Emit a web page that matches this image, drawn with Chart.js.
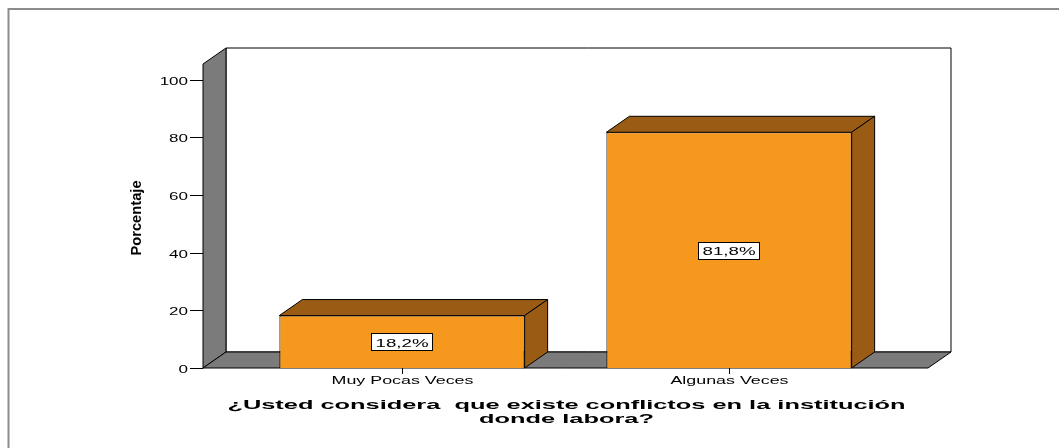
<!DOCTYPE html>
<html>
<head>
<meta charset="utf-8">
<script src="https://cdn.jsdelivr.net/npm/chart.js@4"></script>
<style>
  html, body { margin: 0; padding: 0; background: #fff; }
  canvas { display: block; }
</style>
</head>
<body>
<canvas id="chart" width="1059" height="448"></canvas>
<script>
// Chart data
const categories = ['Muy Pocas Veces', 'Algunas Veces'];
const percentages = [18.2, 81.8];
const yTickValues = [0, 20, 40, 60, 80, 100];
const xTitleLines = ['¿Usted considera  que existe conflictos en la institución', 'donde labora?'];
const yTitle = 'Porcentaje';

// Colours
const colors = {
    front: '#f7981e',
    shade: '#9a5b14',
    wall: '#7b7b7b',
    frame: '#8c8c8c'
};

// 3D depth of walls and bars
const DX = 23, DY = 16;
const WALL_GAP = 35.5;
const FONT = '"Liberation Sans", Arial, sans-serif';

function stretchText(ctx, text, x, y, font, sx, align) {
    ctx.save();
    ctx.font = font;
    ctx.textAlign = align;
    ctx.textBaseline = 'alphabetic';
    ctx.fillStyle = '#000';
    ctx.translate(x, y);
    ctx.scale(sx, 1);
    ctx.fillText(text, 0, 0);
    ctx.restore();
}

function poly(ctx, pts, fill) {
    ctx.beginPath();
    ctx.moveTo(pts[0][0], pts[0][1]);
    for (let i = 1; i < pts.length; i++) ctx.lineTo(pts[i][0], pts[i][1]);
    ctx.closePath();
    ctx.fillStyle = fill;
    ctx.fill();
    ctx.stroke();
}

const box3d = {
    id: 'box3d',
    beforeDraw(chart) {
        const ctx = chart.ctx;
        ctx.save();
        ctx.strokeStyle = colors.frame;
        ctx.lineWidth = 2;
        ctx.beginPath();
        ctx.moveTo(8.5, 448);
        ctx.lineTo(8.5, 9);
        ctx.lineTo(1059, 9);
        ctx.stroke();
        ctx.restore();
    },
    beforeDatasetsDraw(chart) {
        const ctx = chart.ctx;
        const a = chart.chartArea;
        const L = a.left - WALL_GAP, R = a.right + WALL_GAP, T = a.top, B = a.bottom;
        ctx.save();
        ctx.strokeStyle = '#000';
        ctx.lineWidth = 1;
        // back wall
        poly(ctx, [[L + DX, T - DY], [R + DX, T - DY], [R + DX, B - DY], [L + DX, B - DY]], '#fff');
        // left wall
        poly(ctx, [[L, B], [L, T], [L + DX, T - DY], [L + DX, B - DY]], colors.wall);
        // floor
        poly(ctx, [[L, B], [L + DX, B - DY], [R + DX, B - DY], [R, B]], colors.wall);
        ctx.restore();
    },
    afterDatasetsDraw(chart) {
        const ctx = chart.ctx;
        const a = chart.chartArea;
        const L = a.left - WALL_GAP, B = a.bottom;
        const xs = chart.scales.x, ys = chart.scales.y;
        const meta = chart.getDatasetMeta(0);
        ctx.save();
        ctx.strokeStyle = '#000';
        ctx.lineWidth = 1;
        meta.data.forEach((bar, i) => {
            const p = bar.getProps(['x', 'y', 'base', 'width'], true);
            const l = p.x - p.width / 2, r = p.x + p.width / 2;
            poly(ctx, [[l, p.y], [l + DX, p.y - DY], [r + DX, p.y - DY], [r, p.y]], colors.shade);
            poly(ctx, [[r, p.y], [r + DX, p.y - DY], [r + DX, p.base - DY], [r, p.base]], colors.shade);

            // value label box
            const txt = percentages[i].toFixed(1).replace('.', ',') + '%';
            ctx.font = '11px ' + FONT;
            const w = ctx.measureText(txt).width * 1.7 + 8;
            const cy = (p.y + p.base) / 2;
            ctx.fillStyle = '#fff';
            ctx.fillRect(Math.round(p.x - w / 2) + 0.5, Math.round(cy - 8.5) + 0.5, Math.round(w), 17);
            ctx.strokeRect(Math.round(p.x - w / 2) + 0.5, Math.round(cy - 8.5) + 0.5, Math.round(w), 17);
            stretchText(ctx, txt, p.x, cy + 5, '11px ' + FONT, 1.7, 'center');
        });

        // y axis ticks and labels
        ys.ticks.forEach(t => {
            const py = Math.round(ys.getPixelForValue(t.value)) + 0.5;
            ctx.beginPath();
            ctx.moveTo(L - 13, py);
            ctx.lineTo(L, py);
            ctx.stroke();
            stretchText(ctx, String(t.value), L - 15, py + 4, '10px ' + FONT, 1.7, 'right');
        });

        // x axis ticks and labels
        categories.forEach((c, i) => {
            const px = Math.round(xs.getPixelForValue(i)) + 0.5;
            ctx.beginPath();
            ctx.moveTo(px, B);
            ctx.lineTo(px, B + 6);
            ctx.stroke();
            stretchText(ctx, c, px, B + 16, '10.5px ' + FONT, 1.7, 'center');
        });

        // axis titles
        const cx = (a.left + a.right) / 2 + 1;
        xTitleLines.forEach((line, i) => {
            stretchText(ctx, line, cx, B + 41 + i * 14, 'bold 12.5px ' + FONT, 2.03, 'center');
        });
        ctx.save();
        ctx.translate(141, (a.top + a.bottom) / 2 + 2);
        ctx.rotate(-Math.PI / 2);
        stretchText(ctx, yTitle, 0, 0, 'bold 15px ' + FONT, 0.98, 'center');
        ctx.restore();
        ctx.restore();
    }
};

const ctx = document.getElementById('chart').getContext('2d');
const chart = new Chart(ctx, {
    type: 'bar',
    data: {
        labels: categories,
        datasets: [{
            label: 'Porcentaje',
            data: percentages,
            backgroundColor: colors.front,
            borderColor: '#000',
            borderWidth: 1,
            categoryPercentage: 1,
            barPercentage: 0.75
        }]
    },
    options: {
        responsive: false,
        animation: false,
        layout: {
            padding: { left: 238.5, right: 166.5, top: 64, bottom: 80 }
        },
        scales: {
            x: {
                type: 'category',
                offset: true,
                display: false
            },
            y: {
                min: 0,
                max: 105.5,
                display: false,
                afterBuildTicks: scale => {
                    scale.ticks = yTickValues.map(v => ({ value: v }));
                }
            }
        },
        plugins: {
            legend: { display: false },
            tooltip: { enabled: false }
        }
    },
    plugins: [box3d]
});
</script>
</body>
</html>
